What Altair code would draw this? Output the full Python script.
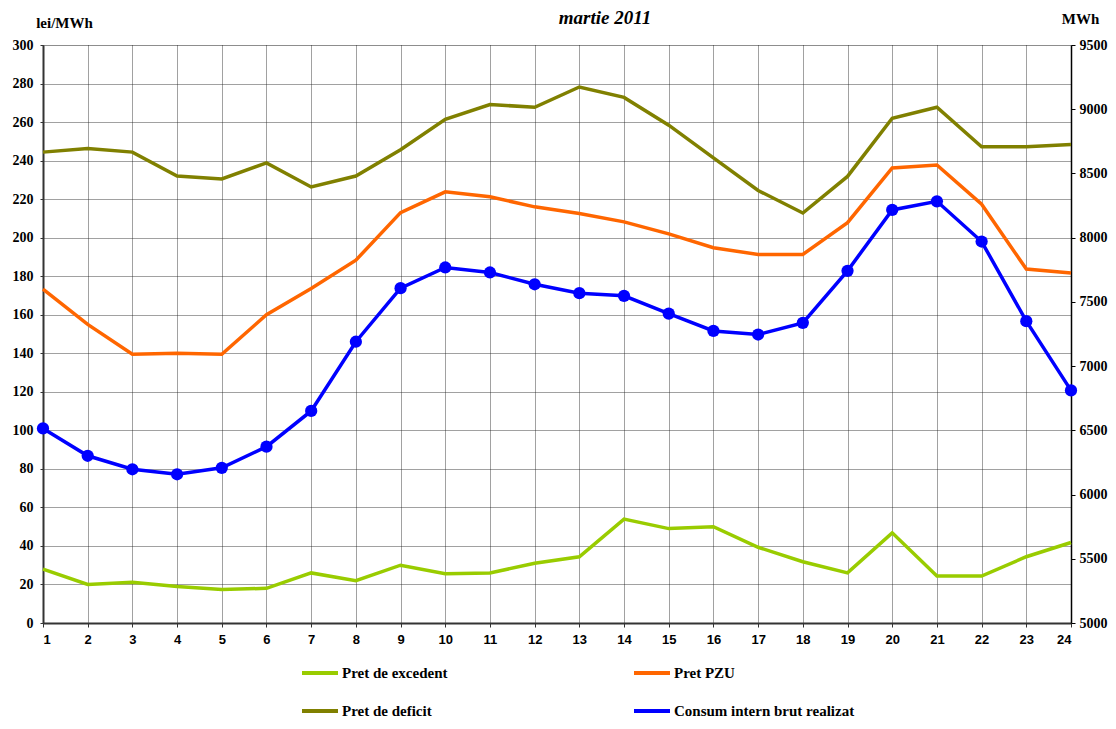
import altair as alt
import pandas as pd

hours = list(range(1, 25))
# legend order: row 1 = excedent, PZU ; row 2 = deficit, consum (legend fills column by column)
names = ["Pret de excedent", "Pret de deficit", "Pret PZU", "Consum intern brut realizat"]
colors = ["#99CC00", "#808000", "#FF6600", "#0000FF"]

excedent = [28, 20, 21.2, 19, 17.4, 18, 26, 22, 30, 25.6, 26, 31, 34.4, 53.9, 49, 50,
            39.3, 31.8, 26, 46.8, 24.4, 24.4, 34.4, 41.8]
pzu = [173.3, 155, 139.5, 140, 139.5, 160, 173.6, 188.3, 213, 223.8, 221.2, 216, 212.5,
       208.2, 202, 194.8, 191.3, 191.3, 207.8, 236.2, 237.7, 217.4, 183.7, 181.6]
deficit = [244.4, 246.3, 244.4, 232, 230.5, 238.8, 226.3, 232, 245.6, 261.4, 269.1, 267.7,
           278.2, 272.8, 258.4, 241.4, 224.5, 212.8, 231.8, 262, 267.7, 247.2, 247.2, 248.4]
consum = [6515, 6302, 6197, 6158, 6208, 6373, 6651, 7190, 7607, 7768, 7729, 7637, 7568,
          7547, 7409, 7274, 7246, 7337, 7742, 8216, 8283, 7970, 7350, 6811]

left_ticks = list(range(0, 301, 20))
right_ticks = list(range(5000, 9501, 500))

price_df = pd.DataFrame({
    "ora": hours * 3,
    "val": excedent + pzu + deficit,
    "serie": ["Pret de excedent"] * 24 + ["Pret PZU"] * 24 + ["Pret de deficit"] * 24,
})
cons_df = pd.DataFrame({"ora": hours, "val": consum, "serie": ["Consum intern brut realizat"] * 24})

SERIF = "Liberation Serif"
SANS = "Liberation Sans"

color = alt.Color(
    "serie:N",
    scale=alt.Scale(domain=names, range=colors),
    sort=names,
    legend=alt.Legend(
        title=None, orient="none", legendX=257, legendY=608, columns=2,
        columnPadding=178, rowPadding=10, symbolType="stroke", symbolSize=1296,
        symbolStrokeWidth=4, labelFont=SERIF, labelFontSize=15, labelFontWeight="bold",
        labelColor="black", labelOffset=2, labelLimit=400,
    ),
)

x = alt.X(
    "ora:Q",
    scale=alt.Scale(domain=[1, 24], nice=False, zero=False),
    axis=alt.Axis(
        values=hours, title=None, format="d", labelFont=SANS, labelFontSize=13,
        labelFontWeight="bold", labelColor="black", labelPadding=6, tickSize=4,
        tickColor="#333", domainColor="#333", domainWidth=2, grid=True,
        gridColor="#222", gridOpacity=0.85, gridDash=[1, 1], gridWidth=1,
    ),
)

left = alt.Chart(price_df).mark_line(strokeWidth=3.5).encode(
    x=x,
    y=alt.Y(
        "val:Q",
        scale=alt.Scale(domain=[0, 300], nice=False),
        axis=alt.Axis(
            values=left_ticks, format="d", title="lei/MWh", titleAngle=0, titleX=21,
            titleY=-18, titleAlign="center", titleBaseline="alphabetic", titleFont=SERIF,
            titleFontSize=15, titleFontWeight="bold", titleColor="black",
            labelFont=SERIF, labelFontSize=14, labelFontWeight="bold", labelColor="black",
            labelPadding=7, tickSize=3, tickColor="#333", domainColor="#333", domainWidth=2,
            grid=True, gridColor="#222", gridOpacity=0.85, gridDash=[1, 1], gridWidth=1,
        ),
    ),
    color=color,
)

right = alt.Chart(cons_df).mark_line(
    strokeWidth=3.5, point=alt.OverlayMarkDef(size=150, filled=True, opacity=1)
).encode(
    x=x,
    y=alt.Y(
        "val:Q",
        scale=alt.Scale(domain=[5000, 9500], nice=False, zero=False),
        axis=alt.Axis(
            orient="right", values=right_ticks, format="d", title="MWh", titleAngle=0,
            titleX=9, titleY=-22, titleAlign="center", titleBaseline="alphabetic",
            titleFont=SERIF, titleFontSize=15, titleFontWeight="bold", titleColor="black",
            labelFont=SERIF, labelFontSize=14, labelFontWeight="bold", labelColor="black",
            labelPadding=4, tickSize=4, tickColor="black", domainColor="black",
            domainWidth=1.5, grid=False,
        ),
    ),
    color=color,
)

chart = alt.layer(left, right).resolve_scale(y="independent").properties(
    width=1028,
    height=578,
    autosize=alt.AutoSizeParams(type="none"),
    padding={"left": 35, "top": 37, "right": 37, "bottom": 98},
    title=alt.TitleParams(
        text="martie 2011", font=SERIF, fontSize=19, fontWeight="bold", fontStyle="italic",
        color="black", anchor="middle", frame="group", dx=48, offset=0, dy=32,
        baseline="alphabetic",
    ),
).configure_view(stroke=None).configure(background="white")

chart.save("out.html", embed_options={"renderer": "svg", "actions": False})
